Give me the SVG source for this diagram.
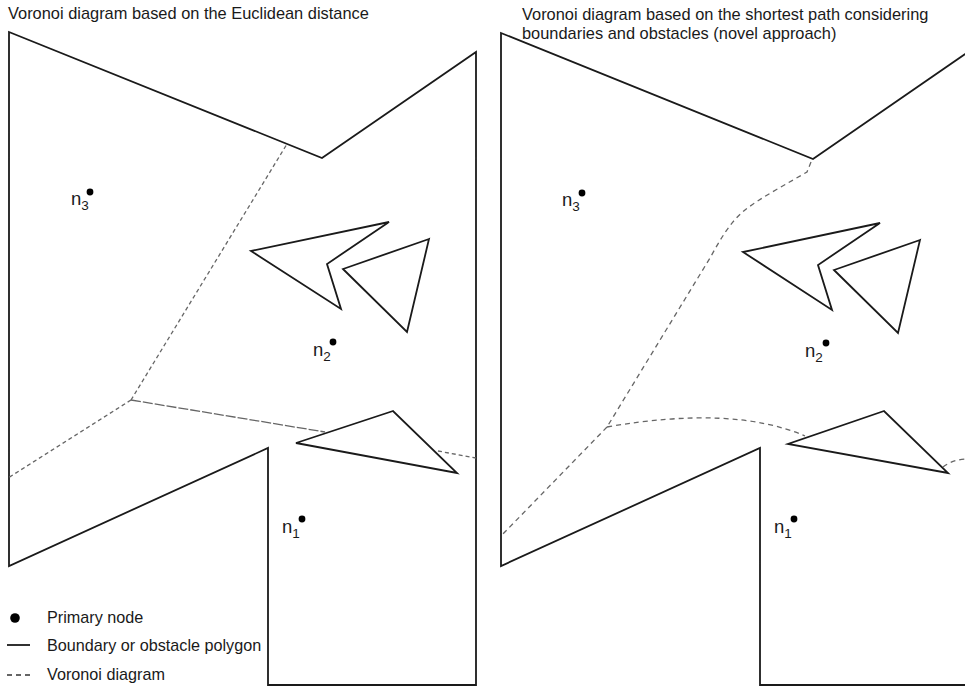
<svg xmlns="http://www.w3.org/2000/svg" width="965" height="687" viewBox="0 0 965 687">
<style>
text{font-family:"Liberation Sans",Arial,sans-serif;fill:#1a1a1a}
.t{font-size:16.4px}
.lg{font-size:16.2px}
.lbl{font-size:18.5px}
.sub{font-size:13.5px}
.b{fill:none;stroke:#1a1a1a;stroke-width:1.8;stroke-linejoin:miter}
.v{fill:none;stroke:#666;stroke-width:1.3}
.vl{stroke-dasharray:4 3}
.vm{stroke-dasharray:10 2}
.vr{stroke-dasharray:5 4}
.dot{fill:#000}
</style>
<rect width="965" height="687" fill="#fff"/>
<g id="titles">
<text class="t" x="8" y="19">Voronoi diagram based on the Euclidean distance</text>
<text class="t" x="522" y="20">Voronoi diagram based on the shortest path considering</text>
<text class="t" x="522" y="39">boundaries and obstacles (novel approach)</text>
</g>
<g id="left-boundary">
<polygon class="b" points="9,32 322,158 476,52 476,685 268,685 268,448 9,566"/>
<polygon class="b" points="389,222 251,251 341,309 327,264"/>
<polygon class="b" points="429,239 343,269 407,332"/>
<polygon class="b" points="393,411 296,443 457,473"/>
</g>
<g id="right-boundary">
<polygon class="b" points="501,33 813,159 968,52 968,685 760,685 760,448 501,566"/>
<polygon class="b" points="880,223 743,252 832,310 818,265"/>
<polygon class="b" points="920,240 834,270 898,333"/>
<polygon class="b" points="884,411 788,444 948,473"/>
</g>
<g id="connectors">
<path class="v vl" d="M131,400 L287,144"/>
<path class="v vl" d="M131,400 L8,478"/>
<path class="v vm" d="M131,400 L325,432"/>
<path class="v vl" d="M438,451 L476,458"/>
<path class="v vr" d="M811,162 L807,172 C790,182 760,198 745,210 C730,222 720,240 710,258 L607,427"/>
<path class="v vr" d="M607,427 L501,536"/>
<path class="v vr" d="M607,427 Q733,405 805,436"/>
<path class="v vr" d="M943,467 Q952,460 965,459"/>
</g>
<g id="n3-left"><circle class="dot" cx="90" cy="192" r="3.4"/><text class="lbl" x="71" y="205">n<tspan class="sub" dy="5">3</tspan></text></g>
<g id="n2-left"><circle class="dot" cx="333" cy="342" r="3.4"/><text class="lbl" x="313" y="356">n<tspan class="sub" dy="5">2</tspan></text></g>
<g id="n1-left"><circle class="dot" cx="302" cy="519" r="3.4"/><text class="lbl" x="282" y="533">n<tspan class="sub" dy="5">1</tspan></text></g>
<g id="n3-right"><circle class="dot" cx="582" cy="193" r="3.4"/><text class="lbl" x="562" y="206">n<tspan class="sub" dy="5">3</tspan></text></g>
<g id="n2-right"><circle class="dot" cx="826" cy="343" r="3.4"/><text class="lbl" x="805" y="357">n<tspan class="sub" dy="5">2</tspan></text></g>
<g id="n1-right"><circle class="dot" cx="794" cy="519" r="3.4"/><text class="lbl" x="774" y="533">n<tspan class="sub" dy="5">1</tspan></text></g>
<g id="legend">
<circle class="dot" cx="15" cy="618" r="4.8"/>
<text class="lg" x="47" y="623">Primary node</text>
<line x1="7" y1="645" x2="30" y2="645" stroke="#1a1a1a" stroke-width="1.8"/>
<text class="lg" x="47" y="651">Boundary or obstacle polygon</text>
<line x1="7" y1="675" x2="31" y2="675" stroke="#333" stroke-width="1.5" stroke-dasharray="5 4"/>
<text class="lg" x="47" y="680">Voronoi diagram</text>
</g>
</svg>
